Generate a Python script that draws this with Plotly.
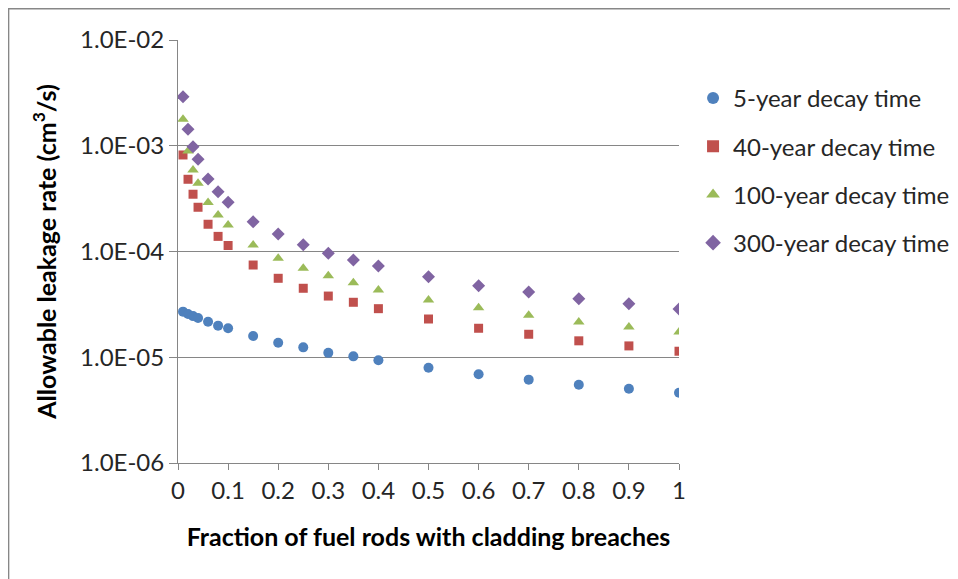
import plotly.graph_objects as go

fraction = [0.01, 0.02, 0.03, 0.04, 0.06, 0.08, 0.1, 0.15, 0.2, 0.25, 0.3,
            0.35, 0.4, 0.5, 0.6, 0.7, 0.8, 0.9, 1.0]

decay_5yr = [2.70e-5, 2.56e-5, 2.45e-5, 2.35e-5, 2.17e-5, 1.99e-5, 1.88e-5,
             1.59e-5, 1.37e-5, 1.24e-5, 1.10e-5, 1.02e-5, 9.36e-6, 7.96e-6,
             6.90e-6, 6.14e-6, 5.50e-6, 5.04e-6, 4.62e-6]
decay_40yr = [8.18e-4, 4.82e-4, 3.48e-4, 2.62e-4, 1.81e-4, 1.39e-4, 1.14e-4,
              7.45e-5, 5.58e-5, 4.49e-5, 3.79e-5, 3.31e-5, 2.88e-5, 2.30e-5,
              1.88e-5, 1.65e-5, 1.43e-5, 1.28e-5, 1.14e-5]
decay_100yr = [1.78e-3, 8.92e-4, 5.90e-4, 4.42e-4, 2.90e-4, 2.21e-4, 1.78e-4,
               1.15e-4, 8.63e-5, 6.94e-5, 5.90e-5, 5.07e-5, 4.33e-5, 3.48e-5,
               2.94e-5, 2.49e-5, 2.15e-5, 1.93e-5, 1.73e-5]
decay_300yr = [2.91e-3, 1.43e-3, 9.80e-4, 7.45e-4, 4.85e-4, 3.67e-4, 2.92e-4,
               1.91e-4, 1.46e-4, 1.16e-4, 9.61e-5, 8.31e-5, 7.30e-5, 5.78e-5,
               4.75e-5, 4.14e-5, 3.58e-5, 3.21e-5, 2.86e-5]

series_names = ["5-year decay time", "40-year decay time",
                "100-year decay time", "300-year decay time"]

x_tick_vals = [0, 0.1, 0.2, 0.3, 0.4, 0.5, 0.6, 0.7, 0.8, 0.9, 1]
x_tick_text = ["0", "0.1", "0.2", "0.3", "0.4", "0.5", "0.6", "0.7", "0.8", "0.9", "1"]
y_tick_vals = [1e-6, 1e-5, 1e-4, 1e-3, 1e-2]
y_tick_text = ["1.0E-06", "1.0E-05", "1.0E-04", "1.0E-03", "1.0E-02"]

FONT = "Lato, 'Open Sans', sans-serif"
GRAY = "#868686"
TXT = "#262626"

styles = [
    dict(symbol="circle", color="#4F81BD", size=10),
    dict(symbol="square", color="#C0504D", size=9),
    dict(symbol="triangle-up", color="#9BBB59", size=10),
    dict(symbol="diamond", color="#8064A2", size=10),
]

fig = go.Figure()
for name, vals, st in zip(series_names, [decay_5yr, decay_40yr, decay_100yr, decay_300yr], styles):
    fig.add_trace(go.Scatter(
        x=fraction, y=vals, mode="markers", name=name, legendgroup=name,
        marker=dict(symbol=st["symbol"], color=st["color"], size=st["size"]),
    ))

L, T, PW, PH = 170, 32, 502, 423

fig.update_layout(
    width=958, height=579,
    margin=dict(l=L, r=958 - L - PW, t=T, b=579 - T - PH),
    paper_bgcolor="white", plot_bgcolor="white",
    font=dict(family=FONT, size=24, color=TXT),
    showlegend=True,
    legend=dict(x=1.026, y=0.915, xanchor="left", yanchor="top",
                font=dict(family=FONT, size=24, color=TXT),
                tracegroupgap=14, itemsizing="constant",
                bgcolor="rgba(0,0,0,0)"),
    xaxis=dict(
        range=[0, 1], tickvals=x_tick_vals, ticktext=x_tick_text,
        showgrid=False, zeroline=False,
        showline=True, linecolor=GRAY, linewidth=1,
        ticks="outside", ticklen=6, tickcolor=GRAY,
        tickfont=dict(family=FONT, size=24, color=TXT),
        title=dict(text="<b>Fraction of fuel rods with cladding breaches</b>",
                   font=dict(family=FONT, size=25, color="#000000"), standoff=25),
    ),
    yaxis=dict(
        type="log", range=[-6, -2], tickvals=y_tick_vals, ticktext=y_tick_text,
        showgrid=True, gridcolor=GRAY, gridwidth=1, zeroline=False,
        showline=True, linecolor=GRAY, linewidth=1,
        ticks="outside", ticklen=8, tickcolor=GRAY,
        tickfont=dict(family=FONT, size=24, color=TXT),
        title=dict(text="<b>Allowable leakage rate (cm<sup>3</sup>/s)</b>",
                   font=dict(family=FONT, size=25, color="#000000"), standoff=16),
    ),
    shapes=[dict(type="rect", xref="paper", yref="paper",
                 x0=(0 - L) / PW, x1=(960 - L) / PW,
                 y0=(T + PH - 590) / PH, y1=(T + PH - 0.5) / PH,
                 line=dict(color="#878787", width=2), fillcolor="rgba(0,0,0,0)",
                 layer="below")],
)

fig.write_html("out.html")
